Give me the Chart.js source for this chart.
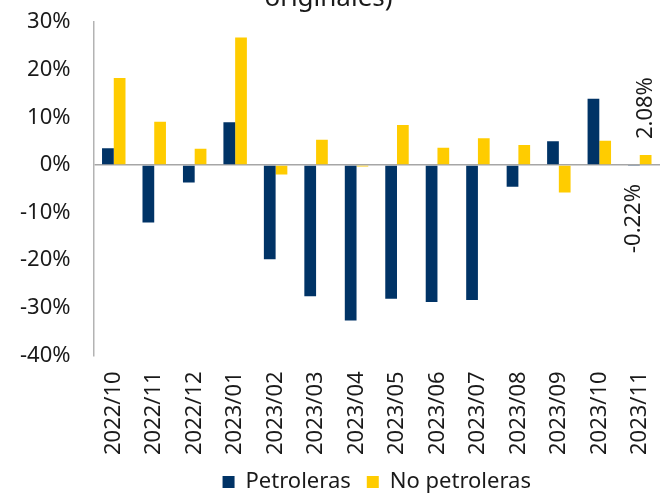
<!DOCTYPE html>
<html>
<head>
<meta charset="utf-8">
<script src="https://cdn.jsdelivr.net/npm/chart.js@4"></script>
<style>
  html, body { margin: 0; padding: 0; background: #fff; overflow: hidden; width: 666px; height: 493px; }
  #wrap { position: absolute; left: 0; top: -17px; width: 666px; height: 520px; }
</style>
</head>
<body>
<div id="wrap"><canvas id="chart"></canvas></div>
<script>
// Categories (months) and the two series, in percent
const months = ['2022/10', '2022/11', '2022/12', '2023/01', '2023/02', '2023/03', '2023/04',
                '2023/05', '2023/06', '2023/07', '2023/08', '2023/09', '2023/10', '2023/11'];
const petroleras   = [3.5, -12.1, -3.7, 9.0, -19.8, -27.6, -32.7, -28.1, -28.8, -28.4, -4.6, 5.0, 13.9, -0.22];
const noPetroleras = [18.3, 9.1, 3.4, 26.8, -2.0, 5.3, -0.3, 8.4, 3.6, 5.6, 4.2, -5.8, 5.1, 2.08];
const yTicks = [-40, -30, -20, -10, 0, 10, 20, 30];

const FONT = '"Noto Sans", "Open Sans", sans-serif';
const TEXT = '#1a1a1a';

// Rotated value labels only on the last month
const lastLabels = {
  id: 'lastLabels',
  afterDatasetsDraw(chart) {
    const ctx = chart.ctx;
    const i = months.length - 1;
    ctx.save();
    ctx.font = '22px ' + FONT;
    ctx.fillStyle = TEXT;
    ctx.textBaseline = 'middle';
    chart.data.datasets.forEach((ds, di) => {
      const bar = chart.getDatasetMeta(di).data[i];
      const v = ds.data[i];
      ctx.save();
      if (v >= 0) {
        ctx.translate(bar.x, Math.min(bar.y, bar.base) - 16);
        ctx.textAlign = 'left';
      } else {
        ctx.translate(bar.x, Math.max(bar.y, bar.base) + 18);
        ctx.textAlign = 'right';
      }
      ctx.rotate(-Math.PI / 2);
      ctx.fillText(v.toFixed(2) + '%', 0, 0);
      ctx.restore();
    });
    ctx.restore();
  }
};

new Chart(document.getElementById('chart'), {
  type: 'bar',
  data: {
    labels: months,
    datasets: [
      { label: 'Petroleras', data: petroleras, backgroundColor: '#003366' },
      { label: 'No petroleras', data: noPetroleras, backgroundColor: '#FFCC00' },
    ],
  },
  options: {
    responsive: true,
    maintainAspectRatio: false,
    animation: false,
    datasets: { bar: { categoryPercentage: 0.58, barPercentage: 1 } },
    layout: { padding: { left: -3, right: 6, top: 0, bottom: 0 } },
    plugins: {
      title: {
        display: true,
        text: 'originales)',
        color: TEXT,
        font: { family: FONT, size: 26, weight: 'normal' },
        padding: { top: 0, bottom: 8 },
      },
      legend: {
        position: 'bottom',
        fullSize: false,
        labels: {
          color: TEXT,
          font: { family: FONT, size: 22 },
          boxWidth: 12,
          boxHeight: 12,
          padding: 16,
        },
      },
      tooltip: { enabled: false },
    },
    scales: {
      x: {
        grid: { display: false, drawTicks: false },
        border: { display: false },
        ticks: {
          color: TEXT,
          font: { family: FONT, size: 22 },
          minRotation: 90,
          maxRotation: 90,
          padding: 16,
          autoSkip: false,
        },
        // drop the extra padding below the labels and the side overhang
        afterFit: s => { s.height -= 16; s.paddingLeft = 0; s.paddingRight = 0; },
      },
      y: {
        min: -40,
        max: 30,
        afterBuildTicks: axis => { axis.ticks = yTicks.map(v => ({ value: v })); },
        grid: {
          drawTicks: false,
          color: c => (c.tick && c.tick.value === 0 ? '#a6a6a6' : 'transparent'),
          lineWidth: 1.5,
        },
        border: { display: true, color: '#b3b3b3', width: 1.5 },
        ticks: {
          color: TEXT,
          font: { family: FONT, size: 22 },
          padding: 23,
          callback: v => v + '%',
        },
      },
    },
  },
  plugins: [lastLabels],
});
</script>
</body>
</html>
